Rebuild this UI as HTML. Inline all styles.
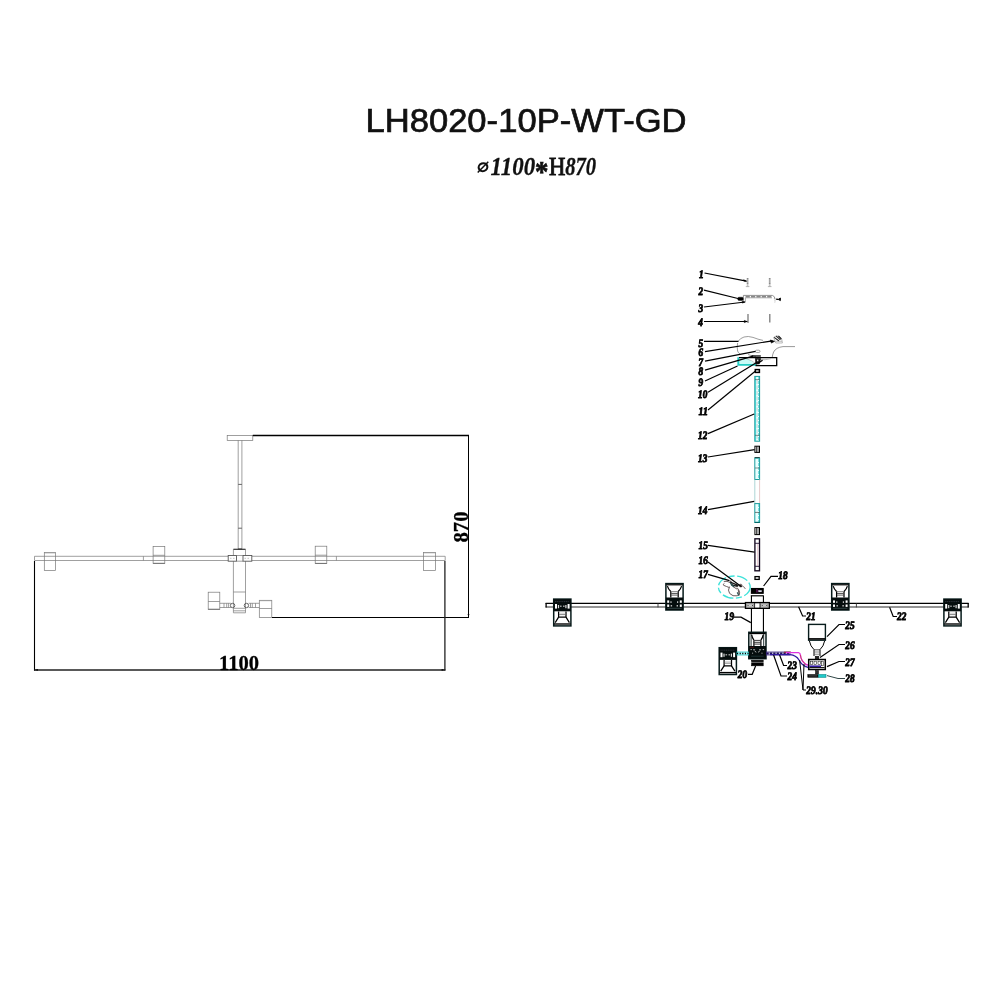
<!DOCTYPE html>
<html><head><meta charset="utf-8"><title>LH8020-10P-WT-GD</title>
<style>
html,body{margin:0;padding:0;background:#fff;}
body{width:1000px;height:1000px;overflow:hidden;position:relative;font-family:"Liberation Sans",sans-serif;}
svg{position:absolute;left:0;top:0;filter:blur(0.3px);}
.t{font-family:"Liberation Sans",sans-serif;font-size:33.6px;fill:#111;stroke:#111;stroke-width:0.7px;}
.s{font-family:"Liberation Serif",serif;font-style:italic;font-weight:bold;font-size:24.6px;fill:#111;stroke:#111;stroke-width:0.3px;}
.d{font-family:"Liberation Serif",serif;font-weight:bold;font-size:22px;fill:#000;stroke:#000;stroke-width:0.3px;}
.n{font-family:"Liberation Serif",serif;font-weight:bold;font-style:italic;font-size:11.4px;fill:#000;stroke:#000;stroke-width:0.8px;stroke-linejoin:round;}
</style></head><body>
<svg width="1000" height="1000" viewBox="0 0 1000 1000">
<rect width="1000" height="1000" fill="#fff"/>
<text id="title" class="t" x="365.4" y="132.2" textLength="321.2" lengthAdjust="spacingAndGlyphs">LH8020-10P-WT-GD</text>
<g id="sub">
<ellipse cx="483" cy="167.2" rx="4.4" ry="3.9" fill="none" stroke="#111" stroke-width="2.1" transform="rotate(-20 483 167.2)"/>
<line x1="477.7" y1="172.5" x2="488.3" y2="161.8" stroke="#111" stroke-width="1.5"/>
<text class="s" x="490.6" y="175.2" textLength="44.5" lengthAdjust="spacingAndGlyphs">1100</text>
<text class="s" x="535" y="181.2" textLength="13.4" lengthAdjust="spacingAndGlyphs" style="font-style:normal;font-size:29px;stroke-width:0.7px">*</text>
<text class="s" x="549" y="175.2" textLength="16.4" lengthAdjust="spacingAndGlyphs" style="font-style:normal;font-weight:normal;stroke:#111;stroke-width:0.9px">H</text>
<text class="s" x="565.2" y="175.2" textLength="31" lengthAdjust="spacingAndGlyphs">870</text>
</g>
<g id="left">
<rect x="227.2" y="435.4" width="25.6" height="5.0" stroke="#777" stroke-width="0.7" fill="none" />
<line x1="238.2" y1="440.4" x2="238.2" y2="549.3" stroke="#777" stroke-width="0.7" />
<line x1="241.9" y1="440.4" x2="241.9" y2="549.3" stroke="#777" stroke-width="0.7" />
<line x1="238.2" y1="484.4" x2="241.9" y2="484.4" stroke="#555" stroke-width="0.9" />
<line x1="238.2" y1="528.2" x2="241.9" y2="528.2" stroke="#555" stroke-width="0.9" />
<line x1="34.5" y1="556.3" x2="228.2" y2="556.3" stroke="#777" stroke-width="0.7" />
<line x1="34.5" y1="560.5" x2="228.2" y2="560.5" stroke="#777" stroke-width="0.7" />
<line x1="251.8" y1="556.3" x2="445.2" y2="556.3" stroke="#777" stroke-width="0.7" />
<line x1="251.8" y1="560.5" x2="445.2" y2="560.5" stroke="#777" stroke-width="0.7" />
<line x1="34.5" y1="556.3" x2="34.5" y2="560.5" stroke="#777" stroke-width="0.7" />
<line x1="445.2" y1="556.3" x2="445.2" y2="560.5" stroke="#777" stroke-width="0.7" />
<line x1="143.4" y1="556.3" x2="143.4" y2="560.5" stroke="#777" stroke-width="0.7" />
<line x1="336.4" y1="556.3" x2="336.4" y2="560.5" stroke="#777" stroke-width="0.7" />
<rect x="44.3" y="552.5" width="11.2" height="17.9" stroke="#777" stroke-width="0.7" fill="none" />
<line x1="44.3" y1="552.9" x2="55.5" y2="552.9" stroke="#999" stroke-width="0.8" />
<rect x="153.1" y="546.4" width="11.7" height="17.1" stroke="#777" stroke-width="0.7" fill="none" />
<line x1="153.1" y1="555.3" x2="164.8" y2="555.3" stroke="#777" stroke-width="0.7" />
<line x1="153.1" y1="563.3" x2="164.8" y2="563.3" stroke="#666" stroke-width="0.8" />
<rect x="315.2" y="546.2" width="11.6" height="17.4" stroke="#777" stroke-width="0.7" fill="none" />
<line x1="315.2" y1="555.2" x2="326.8" y2="555.2" stroke="#777" stroke-width="0.7" />
<line x1="315.2" y1="563.4" x2="326.8" y2="563.4" stroke="#666" stroke-width="0.8" />
<rect x="423.4" y="552.4" width="12.2" height="18.0" stroke="#777" stroke-width="0.7" fill="none" />
<line x1="423.4" y1="552.8" x2="435.6" y2="552.8" stroke="#999" stroke-width="0.8" />
<line x1="233.4" y1="549.3" x2="233.4" y2="612.8" stroke="#777" stroke-width="0.7" />
<line x1="245.5" y1="549.3" x2="245.5" y2="612.8" stroke="#777" stroke-width="0.7" />
<line x1="233.4" y1="549.3" x2="245.5" y2="549.3" stroke="#333" stroke-width="1.2" />
<line x1="238.2" y1="549.0" x2="241.9" y2="549.0" stroke="#333" stroke-width="1.0" />
<rect x="228.2" y="555.5" width="8.3" height="5.7" stroke="#555" stroke-width="0.9" fill="#fff" />
<rect x="243.0" y="555.5" width="8.8" height="5.7" stroke="#555" stroke-width="0.9" fill="#fff" />
<line x1="236.5" y1="555.5" x2="243.0" y2="555.5" stroke="#777" stroke-width="0.7" />
<line x1="236.5" y1="561.2" x2="243.0" y2="561.2" stroke="#777" stroke-width="0.7" />
<line x1="230" y1="558.3" x2="235" y2="558.3" stroke="#999" stroke-width="0.6" stroke-dasharray="1.5 1.5"/>
<line x1="244.5" y1="558.3" x2="250.3" y2="558.3" stroke="#999" stroke-width="0.6" stroke-dasharray="1.5 1.5"/>
<line x1="233.4" y1="592.0" x2="245.5" y2="592.0" stroke="#777" stroke-width="0.7" />
<line x1="233.4" y1="608.3" x2="245.5" y2="608.3" stroke="#777" stroke-width="0.7" />
<line x1="233.4" y1="610.8" x2="245.5" y2="610.8" stroke="#777" stroke-width="0.7" />
<line x1="233.4" y1="612.8" x2="245.5" y2="612.8" stroke="#777" stroke-width="0.7" />
<rect x="208.2" y="592.2" width="11.6" height="17.3" stroke="#777" stroke-width="0.7" fill="none" />
<line x1="208.2" y1="601.5" x2="219.8" y2="601.5" stroke="#777" stroke-width="0.7" />
<line x1="208.2" y1="609.2" x2="219.8" y2="609.2" stroke="#666" stroke-width="0.8" />
<line x1="219.8" y1="603.3" x2="231" y2="603.3" stroke="#777" stroke-width="0.7" />
<line x1="219.8" y1="607.5" x2="231" y2="607.5" stroke="#777" stroke-width="0.7" />
<line x1="224" y1="603.3" x2="224" y2="607.5" stroke="#777" stroke-width="0.7" />
<line x1="226.7" y1="603.3" x2="226.7" y2="607.5" stroke="#777" stroke-width="0.7" />
<line x1="228.6" y1="603.3" x2="228.6" y2="607.5" stroke="#777" stroke-width="0.7" />
<circle cx="232.6" cy="605.5" r="2.2" stroke="#555" stroke-width="0.9" fill="none"/>
<circle cx="246.4" cy="605.5" r="2.2" stroke="#555" stroke-width="0.9" fill="none"/>
<line x1="248.6" y1="603.3" x2="259.3" y2="603.3" stroke="#777" stroke-width="0.7" />
<line x1="248.6" y1="607.5" x2="259.3" y2="607.5" stroke="#777" stroke-width="0.7" />
<line x1="250.5" y1="603.3" x2="250.5" y2="607.5" stroke="#777" stroke-width="0.7" />
<line x1="252.3" y1="603.3" x2="252.3" y2="607.5" stroke="#777" stroke-width="0.7" />
<line x1="255.5" y1="603.3" x2="255.5" y2="607.5" stroke="#777" stroke-width="0.7" />
<rect x="259.3" y="600.3" width="12.5" height="17.2" stroke="#777" stroke-width="0.7" fill="none" />
<line x1="259.3" y1="608.5" x2="271.8" y2="608.5" stroke="#777" stroke-width="0.7" />
<line x1="259.3" y1="600.7" x2="271.8" y2="600.7" stroke="#999" stroke-width="0.8" />
<line x1="252.8" y1="435.4" x2="469" y2="435.4" stroke="#000" stroke-width="1.5" />
<line x1="272" y1="617.5" x2="469" y2="617.5" stroke="#000" stroke-width="1.1" />
<line x1="468.5" y1="435.4" x2="468.5" y2="618" stroke="#000" stroke-width="1.05" />
<line x1="34.5" y1="561" x2="34.5" y2="670.8" stroke="#000" stroke-width="1.1" />
<line x1="444.9" y1="561" x2="444.9" y2="670.6" stroke="#222" stroke-width="1.3" />
<line x1="34.5" y1="669.9" x2="445.4" y2="669.9" stroke="#222" stroke-width="1.45" />
<path d="M34.5 669.9 l3.4 -0.9 v1.8 z M445 669.9 l-3.4 -0.9 v1.8 z M468.5 617.4 l-0.9 -3.4 h1.8 z" fill="#000"/>
<text id="d1100" class="d" x="219" y="670" textLength="40" lengthAdjust="spacingAndGlyphs">1100</text>
<text id="d870" class="d" transform="translate(468,542.5) rotate(-90)" textLength="31" lengthAdjust="spacingAndGlyphs">870</text>
</g>
<defs>
<g id="lampD"><!-- downward lamp, origin top-left, 18.6 x 28.2 -->
<rect x="0.7" y="0.7" width="17.2" height="26.8" fill="#fff" stroke="#061a1a" stroke-width="1.5"/>
<rect x="0.7" y="0.7" width="17.2" height="12.2" fill="#050d0d"/>
<rect x="2.0" y="5.6" width="2.0" height="4.6" fill="#fff"/>
<rect x="14.6" y="5.6" width="2.0" height="4.6" fill="#fff"/>
<rect x="4.9" y="6.6" width="1.2" height="3.2" fill="#ddd"/>
<rect x="12.3" y="6.6" width="1.2" height="3.2" fill="#ddd"/>
<rect x="7" y="7.2" width="1.6" height="1.2" fill="#bbb"/>
<rect x="10" y="7.2" width="1.6" height="1.2" fill="#bbb"/>
<line x1="2" y1="3.2" x2="16.5" y2="3.2" stroke="#556" stroke-width="0.5" stroke-dasharray="1.2 0.6"/>
<path d="M5.6 13 V18.8 H13 V13" fill="none" stroke="#000" stroke-width="1.25"/>
<line x1="6" y1="16.2" x2="12.6" y2="16.2" stroke="#666" stroke-width="0.8"/>
<line x1="6" y1="14.8" x2="12.6" y2="14.8" stroke="#999" stroke-width="0.5"/>
<path d="M5.6 18.8 L2.2 24.2 M13 18.8 L16.4 24.2" fill="none" stroke="#000" stroke-width="1.25"/>
<line x1="1" y1="25.6" x2="17.6" y2="25.6" stroke="#000" stroke-width="1.4"/>
</g>
<g id="lampU"><!-- upward lamp, origin top-left, 18.6 x 27.8 -->
<rect x="0.7" y="0.7" width="17.2" height="26.4" fill="#fff" stroke="#061a1a" stroke-width="1.5"/>
<rect x="0.7" y="14.6" width="17.2" height="12.5" fill="#050d0d"/>
<rect x="2.0" y="17.5" width="2.0" height="2.4" fill="#fff"/>
<rect x="14.6" y="17.5" width="2.0" height="2.4" fill="#fff"/>
<rect x="2.0" y="21.6" width="2.0" height="2.4" fill="#fff"/>
<rect x="14.6" y="21.6" width="2.0" height="2.4" fill="#fff"/>
<rect x="5.2" y="18.4" width="1.2" height="1.6" fill="#ccc"/>
<rect x="11.8" y="18.4" width="1.2" height="1.6" fill="#ccc"/>
<rect x="5.5" y="22.2" width="1.4" height="1.4" fill="#ccc"/>
<rect x="11.4" y="22.2" width="1.4" height="1.4" fill="#ccc"/>
<line x1="2" y1="25.4" x2="16.5" y2="25.4" stroke="#5a7a7a" stroke-width="0.5"/>
<line x1="1" y1="1.9" x2="17.6" y2="1.9" stroke="#000" stroke-width="1.2"/>
<path d="M2.2 3.2 C3 6 4.2 7.2 5.6 8.6 M16.4 3.2 C15.6 6 14.4 7.2 13 8.6" fill="none" stroke="#000" stroke-width="1.25"/>
<path d="M5.6 8.6 V14.6 M13 8.6 V14.6" fill="none" stroke="#000" stroke-width="1.25"/>
<line x1="6" y1="8.8" x2="12.6" y2="8.8" stroke="#444" stroke-width="0.7"/>
<line x1="6" y1="10.6" x2="12.6" y2="10.6" stroke="#333" stroke-width="0.8"/>
<line x1="6" y1="12.2" x2="12.6" y2="12.2" stroke="#333" stroke-width="0.8"/>
</g>
<g id="lampH"><!-- hub lamp -->
<rect x="0.7" y="0.7" width="17.2" height="26.4" fill="#fff" stroke="#061a1a" stroke-width="1.5"/>
<rect x="0.7" y="14.4" width="17.2" height="12.7" fill="#050d0d"/>
<path d="M3 2 V14.4 M15.6 2 V14.4" fill="none" stroke="#0a1c1c" stroke-width="0.9"/>
<line x1="1" y1="1.9" x2="17.6" y2="1.9" stroke="#000" stroke-width="1.3"/>
<path d="M3.6 3.2 C4 6 4.8 7.2 5.8 8.6 M15 3.2 C14.6 6 13.8 7.2 12.8 8.6" fill="none" stroke="#000" stroke-width="1.2"/>
<path d="M5.8 8.6 V14.6 M12.8 8.6 V14.6" fill="none" stroke="#000" stroke-width="1.2"/>
<line x1="6" y1="8.8" x2="12.6" y2="8.8" stroke="#222" stroke-width="0.9"/>
<line x1="6" y1="10.7" x2="12.6" y2="10.7" stroke="#222" stroke-width="0.9"/>
<line x1="6" y1="12.5" x2="12.6" y2="12.5" stroke="#222" stroke-width="0.9"/>
<path d="M2.4 18 h1.4 M5 18.2 h2 M11 18.2 h2 M14.6 18 h1.4 M6.6 19.6 l1.6 1 M11.6 19.6 l-1.6 1 M4 21.6 h1 M13.4 21.6 h1" stroke="#ddd" stroke-width="0.8" fill="none"/>
<line x1="3" y1="24.6" x2="15.6" y2="24.6" stroke="#2a4a4a" stroke-width="0.6"/>
<line x1="2" y1="15.8" x2="6" y2="15.8" stroke="#8a1a1a" stroke-width="0.5"/>
</g>
</defs>
<g id="right">
<line x1="545.6" y1="603.4" x2="745" y2="603.4" stroke="#000" stroke-width="1.15" />
<line x1="545.6" y1="607.0" x2="745" y2="607.0" stroke="#707070" stroke-width="1.3" />
<line x1="769.8" y1="603.4" x2="968.6" y2="603.4" stroke="#000" stroke-width="1.15" />
<line x1="769.8" y1="607.0" x2="968.6" y2="607.0" stroke="#707070" stroke-width="1.3" />
<line x1="546.1" y1="602.9" x2="546.1" y2="607.6" stroke="#000" stroke-width="1.3" />
<line x1="968.2" y1="602.9" x2="968.2" y2="607.6" stroke="#000" stroke-width="1.3" />
<line x1="658" y1="603.4" x2="658" y2="607.4" stroke="#333" stroke-width="0.9" />
<line x1="856.4" y1="603.4" x2="856.4" y2="607.4" stroke="#333" stroke-width="0.9" />
<use href="#lampD" x="553" y="598.4"/>
<use href="#lampU" x="665.2" y="582.9"/>
<use href="#lampU" x="831" y="582.9"/>
<use href="#lampD" x="943.2" y="598.4"/>
<line x1="751.45" y1="595.7" x2="751.45" y2="632" stroke="#000" stroke-width="1.15" />
<line x1="763.45" y1="595.7" x2="763.45" y2="632" stroke="#000" stroke-width="1.15" />
<line x1="750.8" y1="595.8" x2="763.7" y2="595.8" stroke="#000" stroke-width="1.2" />
<rect x="745.5" y="602.6" width="23.8" height="5.7" stroke="#000" stroke-width="1.4" fill="#fff" />
<rect x="746.8" y="603.9" width="7.2" height="3.2" stroke="#555" stroke-width="0.5" fill="#ccc" />
<line x1="747.6" y1="605.5" x2="753.2" y2="605.5" stroke="#222" stroke-width="0.9" stroke-dasharray="0.9 3.6"/>
<rect x="760.8" y="603.9" width="7.2" height="3.2" stroke="#555" stroke-width="0.5" fill="#ccc" />
<line x1="761.8" y1="605.5" x2="767.6" y2="605.5" stroke="#222" stroke-width="0.9" stroke-dasharray="0.9 3.6"/>
<line x1="754.6" y1="602.3" x2="754.6" y2="608.5" stroke="#000" stroke-width="0.8" />
<line x1="760.0" y1="602.3" x2="760.0" y2="608.5" stroke="#000" stroke-width="0.8" />
<rect x="751.4" y="588.5" width="11.8" height="4.8" stroke="#000" stroke-width="1.1" fill="#000" />
<rect x="756.2" y="589.4" width="1.6" height="3.0" stroke="#50104a" stroke-width="0.3" fill="#50104a" />
<rect x="758.6" y="590.4" width="3.0" height="1.5" stroke="#ccd" stroke-width="0.3" fill="#eef" />
<rect x="755.0" y="576.6" width="4.2" height="2.8" stroke="#000" stroke-width="1.3" fill="#fff" />
<use href="#lampH" x="748.1" y="631.6"/>
<rect x="751.6" y="660.2" width="11.6" height="5.6" stroke="#000" stroke-width="0.6" fill="#000" />
<line x1="751" y1="662.3" x2="764" y2="662.3" stroke="#fff" stroke-width="0.5" />
<use href="#lampD" x="718.5" y="647.0"/>
<rect x="737" y="652.0" width="11.5" height="3.0" stroke="#1fc8c8" stroke-width="0.8" fill="#bff" />
<line x1="737" y1="653.5" x2="748.5" y2="653.5" stroke="#000" stroke-width="1.6" stroke-dasharray="1.2 1.4"/>
<rect x="766.5" y="652.0" width="23.5" height="3.0" stroke="#3a2a80" stroke-width="0.8" fill="#ccd" />
<line x1="766.5" y1="653.5" x2="790" y2="653.5" stroke="#201060" stroke-width="1.8" stroke-dasharray="2.2 1.2"/>
<line x1="784" y1="652.2" x2="791" y2="652.2" stroke="#a02020" stroke-width="1.0" />
<path d="M786 652.6 H798.5 Q800.2 652.8 800.4 655 Q801 661 806 664.5 Q810 666.2 816 666.2" stroke="#e030e0" stroke-width="1.4" fill="none" />
<path d="M770 654.6 H790 Q796 655 799 660 Q802 666 808 667.4 H821" stroke="#3018a0" stroke-width="1.3" fill="none" />
<path d="M800.4 655 Q801 661 806 664.5" stroke="#c04040" stroke-width="0.7" fill="none" />
<line x1="747.6" y1="278" x2="747.6" y2="286.3" stroke="#8a8a8a" stroke-width="1.7" stroke-dasharray="1.2 0.4"/>
<line x1="745.8000000000001" y1="286.6" x2="749.4" y2="286.6" stroke="#999" stroke-width="0.7" />
<line x1="769.7" y1="278" x2="769.7" y2="286.3" stroke="#8a8a8a" stroke-width="1.7" stroke-dasharray="1.2 0.4"/>
<line x1="767.9000000000001" y1="286.6" x2="771.5" y2="286.6" stroke="#999" stroke-width="0.7" />
<path d="M743.4 302.4 V295.4 H772.4 Q774.8 296 775.2 299.4" stroke="#7a7a7a" stroke-width="0.8" fill="none" />
<path d="M745.4 302.4 V297.8 H772" stroke="#8a8a8a" stroke-width="0.7" fill="none" />
<line x1="745.6" y1="296.6" x2="772.4" y2="296.6" stroke="#888" stroke-width="1.7" stroke-dasharray="4.2 1.2"/>
<path d="M774.2 298 Q775.4 300.6 774.8 302.6" stroke="#999" stroke-width="0.8" fill="none" stroke-dasharray="1 0.7"/>
<rect x="737.8" y="297.2" width="5.4" height="3.2" stroke="#000" stroke-width="0.4" fill="#000" rx="1.2"/>
<path d="M776.2 299.2 h2.4 l1.8 -1.2 v2.6 l-1.8 -1 z" stroke="#000" stroke-width="0.9" fill="#000" />
<line x1="748" y1="314" x2="748" y2="323" stroke="#7a7a7a" stroke-width="1.3" />
<line x1="769.8" y1="314" x2="769.8" y2="322.5" stroke="#7a7a7a" stroke-width="1.3" />
<path d="M738 341.5 Q740 338.2 744 337 Q748 335.8 753 337.4 Q758 339.4 763 340.4 M737.6 343 Q736.8 347 737.6 351 Q738.2 353 740 354 M748 354.5 Q752 356 756 356.5" stroke="#8c8c8c" stroke-width="0.85" fill="none" />
<path d="M773.6 337.4 l2.8 -1.6 l3 0.8 l2.4 3 l0.6 3.4 h-6.6 z" stroke="#999" stroke-width="0.7" fill="#fff" />
<path d="M774.2 337.4 l4.8 3.6 M776.2 336.2 l4.2 3.6 M778.4 336 l3 3" stroke="#222" stroke-width="1.1" fill="none" />
<path d="M775.4 341.4 h6.6" stroke="#aaa" stroke-width="0.7" fill="none" />
<path d="M770.2 340.0 l4.4 1.3 l-3.2 1.8 z" stroke="#000" stroke-width="0.6" fill="#000" />
<rect x="755.4" y="350.2" width="4.6" height="2.3" stroke="#888" stroke-width="0.8" fill="#fff" rx="1.1"/>
<path d="M795 346.6 H783 Q776 347.4 773.6 352 Q772.4 355 772.2 357.6" stroke="#8c8c8c" stroke-width="0.9" fill="none" />
<line x1="751.6" y1="356.0" x2="760.8" y2="356.0" stroke="#000" stroke-width="1.3" />
<rect x="737.9" y="357.7" width="38.8" height="7.9" stroke="none" stroke-width="0" fill="#fff" />
<path d="M738.6 358.4 H748 L756 364.9 H738.6 Z" stroke="none" stroke-width="0" fill="#c8fbf6" />
<path d="M738.3 357.2 V364.9 H756.5" stroke="#22ccc2" stroke-width="1.9" fill="none" />
<path d="M739 357.7 H776.7 V365.6 H755.5" stroke="#000" stroke-width="1.3" fill="none" />
<path d="M746 358.6 Q752 360 757 364.6" stroke="#9aa" stroke-width="0.6" fill="none" />
<path d="M759 359.2 Q765 360.6 771 358.6" stroke="#aaa" stroke-width="0.8" fill="none" />
<path d="M755.4 358.2 l5.2 0.2 l-1.2 5.4 l-3.6 0.4 z" stroke="#000" stroke-width="0.6" fill="#1a1a1a" />
<path d="M757.6 363.4 l5.0 -3.2" stroke="#000" stroke-width="1.3" fill="none" />
<rect x="757.0" y="359.6" width="1.4" height="1.6" stroke="#fff" stroke-width="0" fill="#ddd" />
<rect x="755.3" y="369.6" width="4.1" height="2.8" stroke="#000" stroke-width="1.5" fill="#fff" />
<rect x="754.8" y="376.4" width="4.8" height="64.8" stroke="#1a9c9c" stroke-width="1.0" fill="#eaffff" />
<line x1="755.6" y1="377" x2="755.6" y2="441" stroke="#1fc8c8" stroke-width="0.8" />
<line x1="758.6" y1="377" x2="758.6" y2="441" stroke="#1fc8c8" stroke-width="0.6" stroke-dasharray="3 1"/>
<line x1="757.1" y1="380" x2="757.1" y2="440" stroke="#aaa" stroke-width="0.5" stroke-dasharray="4 1.5"/>
<line x1="755" y1="379.6" x2="759.6" y2="379.6" stroke="#444" stroke-width="0.6" />
<line x1="755" y1="435.3" x2="759.6" y2="435.3" stroke="#444" stroke-width="0.6" />
<rect x="754.9" y="446.2" width="4.6" height="6.2" stroke="#000" stroke-width="1.0" fill="#fff" />
<line x1="756.5" y1="446.2" x2="756.5" y2="452.4" stroke="#000" stroke-width="0.7" />
<line x1="758.0" y1="446.2" x2="758.0" y2="452.4" stroke="#000" stroke-width="0.7" />
<line x1="754.6" y1="457.7" x2="759.8" y2="457.7" stroke="#000" stroke-width="1.1" />
<rect x="754.8" y="458.2" width="4.8" height="21.3" stroke="#1a9c9c" stroke-width="1.0" fill="#eaffff" />
<line x1="758.6" y1="459" x2="758.6" y2="479" stroke="#1fc8c8" stroke-width="0.6" stroke-dasharray="3 1"/>
<line x1="755" y1="468.0" x2="759.6" y2="468.0" stroke="#444" stroke-width="0.6" />
<line x1="754.8" y1="479.5" x2="754.8" y2="503.6" stroke="#9cc" stroke-width="0.8" />
<line x1="759.6" y1="479.5" x2="759.6" y2="503.6" stroke="#dbb" stroke-width="0.8" />
<rect x="754.8" y="503.6" width="4.8" height="18.8" stroke="#1a9c9c" stroke-width="1.0" fill="#eaffff" />
<line x1="758.6" y1="504" x2="758.6" y2="522" stroke="#1fc8c8" stroke-width="0.6" stroke-dasharray="3 1"/>
<line x1="755" y1="512.4" x2="759.6" y2="512.4" stroke="#444" stroke-width="0.7" />
<line x1="754.6" y1="522.4" x2="759.8" y2="522.4" stroke="#066" stroke-width="1.1" />
<rect x="754.9" y="527.6" width="4.6" height="7.0" stroke="#000" stroke-width="1.0" fill="#fff" />
<line x1="756.5" y1="527.6" x2="756.5" y2="534.6" stroke="#000" stroke-width="0.7" />
<line x1="758.0" y1="527.6" x2="758.0" y2="534.6" stroke="#000" stroke-width="0.7" />
<rect x="754.9" y="538.8" width="4.6" height="32.0" stroke="#14081e" stroke-width="1.35" fill="#fff" />
<line x1="755" y1="543.3" x2="759.5" y2="543.3" stroke="#1a0a2a" stroke-width="0.9" />
<line x1="755" y1="566.3" x2="759.5" y2="566.3" stroke="#1a0a2a" stroke-width="0.9" />
<line x1="757.6" y1="544" x2="757.6" y2="566" stroke="#d9a" stroke-width="0.5" />
<ellipse cx="734.3" cy="587.1" rx="15.9" ry="11.1" fill="none" stroke="#3fe2da" stroke-width="1.35" stroke-dasharray="11 2.6 6 2.6"/>
<path d="M724.4 583.4 q-1.8 0.8 -0.8 1.9 q2.8 1.2 5.6 2.2 M723.8 581.4 q3.2 -0.5 6.2 1.0 M729.6 586.6 q-2.2 3.6 0 6.8 q3 3.4 7.6 2.4 q3 -1 2.4 -3.6 q-0.6 -2.6 -2.6 -4.6 M730.6 580.6 l2.6 6.2 l4 2.4 M738.2 589.6 l1 5.6" stroke="#5a4c4c" stroke-width="0.9" fill="none" />
<path d="M729.8 581.8 l8.8 3.8 M731.4 585 l6.4 1.4" stroke="#1a1a1a" stroke-width="1.3" fill="none" />
<path d="M730.4 583.2 q1.6 2.4 3.6 3.4" stroke="#245050" stroke-width="1.4" fill="none" />
<circle cx="740.6" cy="585.6" r="1.5" fill="#7a6a6a" stroke="#544" stroke-width="0.5"/>
<path d="M742.2 586.0 q2.2 0.6 3.2 3.0" stroke="#8a7a7a" stroke-width="1.0" fill="none" />
<path d="M737.2 592.4 l1.8 3.2" stroke="#355" stroke-width="1.2" fill="none" />
<rect x="808.6" y="624.4" width="16.8" height="15.8" stroke="#071c1c" stroke-width="1.4" fill="#fff" />
<line x1="808.6" y1="638.9" x2="825.4" y2="638.9" stroke="#000" stroke-width="1.6" />
<path d="M809.4 641 Q810.4 646.4 814 649.6 M824.6 641 Q823.6 646.4 820 649.6" stroke="#000" stroke-width="1.0" fill="none" />
<path d="M814 649.6 V656 M820 649.6 V656" stroke="#000" stroke-width="1.0" fill="none" />
<line x1="814" y1="649.8" x2="820" y2="649.8" stroke="#222" stroke-width="0.8" />
<line x1="814" y1="652.0" x2="820" y2="652.0" stroke="#555" stroke-width="0.7" />
<line x1="814" y1="654.2" x2="820" y2="654.2" stroke="#555" stroke-width="0.7" />
<rect x="815.2" y="656.2" width="3.6" height="2.6" stroke="#000" stroke-width="0.5" fill="#222" />
<rect x="808.7" y="659.5" width="16.6" height="10.0" stroke="#000" stroke-width="1.5" fill="#fff" />
<rect x="810.6" y="661.2" width="2.2" height="3.2" stroke="#000" stroke-width="0.5" fill="#fff" />
<rect x="814.0" y="661.2" width="2.6" height="3.2" stroke="#000" stroke-width="0.5" fill="#fff" />
<rect x="818.0" y="661.2" width="2.6" height="3.2" stroke="#000" stroke-width="0.5" fill="#fff" />
<rect x="821.6" y="661.2" width="1.6" height="4.6" stroke="#000" stroke-width="0.5" fill="#fff" />
<line x1="809.4" y1="667.6" x2="824.6" y2="667.6" stroke="#000" stroke-width="1.0" />
<line x1="809.4" y1="666.2" x2="821" y2="666.2" stroke="#3018a0" stroke-width="1.6" />
<rect x="815.4" y="670.4" width="3.2" height="3.6" stroke="#000" stroke-width="0.4" fill="#333" />
<rect x="807.8" y="674.5" width="10.6" height="2.8" stroke="#000" stroke-width="0.5" fill="#111" />
<rect x="818.4" y="674.5" width="7.6" height="2.8" stroke="#0a8a8a" stroke-width="0.6" fill="#1fc8c8" />
<line x1="809" y1="675.9" x2="817" y2="675.9" stroke="#999" stroke-width="0.4" />
<line x1="704.5" y1="273" x2="746.4" y2="281.2" stroke="#000" stroke-width="1.2" />
<line x1="704" y1="290.2" x2="740" y2="299" stroke="#000" stroke-width="1.2" />
<line x1="704" y1="307" x2="745" y2="302" stroke="#000" stroke-width="1.2" />
<line x1="704" y1="321.5" x2="747.2" y2="321.5" stroke="#000" stroke-width="1.2" />
<line x1="704" y1="341.3" x2="738.5" y2="341.3" stroke="#000" stroke-width="1.2" />
<line x1="705" y1="351.6" x2="772.5" y2="340.8" stroke="#000" stroke-width="1.2" />
<line x1="705" y1="361.2" x2="755.5" y2="351.4" stroke="#000" stroke-width="1.2" />
<line x1="705" y1="370.2" x2="753" y2="356.2" stroke="#000" stroke-width="1.2" />
<line x1="705" y1="381" x2="737.5" y2="366" stroke="#000" stroke-width="1.2" />
<line x1="708" y1="392.2" x2="757" y2="362.2" stroke="#000" stroke-width="1.2" />
<line x1="708" y1="410" x2="755.2" y2="371.2" stroke="#000" stroke-width="1.2" />
<line x1="708" y1="433.6" x2="754.2" y2="414" stroke="#000" stroke-width="1.2" />
<line x1="708" y1="457" x2="754.6" y2="449.6" stroke="#000" stroke-width="1.2" />
<line x1="708" y1="509.6" x2="754.2" y2="501.4" stroke="#000" stroke-width="1.2" />
<line x1="708" y1="545.4" x2="754.6" y2="552.2" stroke="#000" stroke-width="1.2" />
<line x1="708" y1="562" x2="741.5" y2="586.8" stroke="#000" stroke-width="1.2" />
<line x1="708" y1="574.3" x2="729.5" y2="580.6" stroke="#000" stroke-width="1.2" />
<path d="M778 576.3 H771 L763.6 586" stroke="#000" stroke-width="1.2" fill="none" />
<path d="M734 617.2 H741 L750.8 622.6" stroke="#000" stroke-width="1.2" fill="none" />
<path d="M748 674.3 H752.2 L755.6 666" stroke="#000" stroke-width="1.2" fill="none" />
<path d="M806 616 H802.6 L798.6 606.8" stroke="#000" stroke-width="1.2" fill="none" />
<path d="M897 616.5 H893.2 L889.6 607.2" stroke="#000" stroke-width="1.2" fill="none" />
<path d="M787 665.5 H783.6 L779.6 655" stroke="#000" stroke-width="1.2" fill="none" />
<path d="M787 676 H781 L773.6 655" stroke="#000" stroke-width="1.2" fill="none" />
<path d="M845 624.5 H839 L827 636.6" stroke="#000" stroke-width="1.2" fill="none" />
<path d="M845 644.5 H839 L820 657.6" stroke="#000" stroke-width="1.2" fill="none" />
<path d="M845 661.5 H839 L827 666.6" stroke="#000" stroke-width="1.2" fill="none" />
<path d="M845 678.5 H838 L827 675.6" stroke="#0c2626" stroke-width="0.85" fill="none" />
<path d="M806 690 H803 L799.6 660 M803 690 L804 664" stroke="#000" stroke-width="1.0" fill="none" />
<path d="M746.8 281.3 l-3.2 -1.8 l0.4 1.8 z" stroke="#000" stroke-width="0.3" fill="#000" />
<path d="M747.4 321.5 l-3.2 -1.2 v2.4 z" stroke="#000" stroke-width="0.3" fill="#000" />
<path d="M745.2 302 l-3.2 -0.8 l0.4 2 z" stroke="#000" stroke-width="0.3" fill="#000" />
<text class="n" transform="translate(699,278) skewX(2)" textLength="4.8" lengthAdjust="spacingAndGlyphs">1</text>
<text class="n" transform="translate(698.4,295.2) skewX(2)" textLength="4.8" lengthAdjust="spacingAndGlyphs">2</text>
<text class="n" transform="translate(698.4,312.2) skewX(2)" textLength="4.8" lengthAdjust="spacingAndGlyphs">3</text>
<text class="n" transform="translate(698.2,326.2) skewX(2)" textLength="4.8" lengthAdjust="spacingAndGlyphs">4</text>
<text class="n" transform="translate(698.4,346.6) skewX(2)" textLength="4.8" lengthAdjust="spacingAndGlyphs">5</text>
<text class="n" transform="translate(698.6,356.2) skewX(2)" textLength="4.8" lengthAdjust="spacingAndGlyphs">6</text>
<text class="n" transform="translate(698.6,366.4) skewX(2)" textLength="4.8" lengthAdjust="spacingAndGlyphs">7</text>
<text class="n" transform="translate(698.6,375.2) skewX(2)" textLength="4.8" lengthAdjust="spacingAndGlyphs">8</text>
<text class="n" transform="translate(698.6,386.2) skewX(2)" textLength="4.8" lengthAdjust="spacingAndGlyphs">9</text>
<text class="n" transform="translate(698,398) skewX(2)" textLength="9.6" lengthAdjust="spacingAndGlyphs">10</text>
<text class="n" transform="translate(698.4,415.4) skewX(2)" textLength="9.6" lengthAdjust="spacingAndGlyphs">11</text>
<text class="n" transform="translate(698,439) skewX(2)" textLength="9.6" lengthAdjust="spacingAndGlyphs">12</text>
<text class="n" transform="translate(698,461.6) skewX(2)" textLength="9.6" lengthAdjust="spacingAndGlyphs">13</text>
<text class="n" transform="translate(698,513.7) skewX(2)" textLength="9.6" lengthAdjust="spacingAndGlyphs">14</text>
<text class="n" transform="translate(698.4,549.3) skewX(2)" textLength="9.6" lengthAdjust="spacingAndGlyphs">15</text>
<text class="n" transform="translate(698.4,563.6) skewX(2)" textLength="9.6" lengthAdjust="spacingAndGlyphs">16</text>
<text class="n" transform="translate(698.4,577.9) skewX(2)" textLength="9.6" lengthAdjust="spacingAndGlyphs">17</text>
<text class="n" transform="translate(778.2,579) skewX(2)" textLength="9.6" lengthAdjust="spacingAndGlyphs">18</text>
<text class="n" transform="translate(724.6,620.2) skewX(2)" textLength="9.6" lengthAdjust="spacingAndGlyphs">19</text>
<text class="n" transform="translate(737.8,677.8) skewX(2)" textLength="9.6" lengthAdjust="spacingAndGlyphs">20</text>
<text class="n" transform="translate(806.2,619.8) skewX(2)" textLength="9.6" lengthAdjust="spacingAndGlyphs">21</text>
<text class="n" transform="translate(897,620) skewX(2)" textLength="9.6" lengthAdjust="spacingAndGlyphs">22</text>
<text class="n" transform="translate(787.4,668.8) skewX(2)" textLength="9.6" lengthAdjust="spacingAndGlyphs">23</text>
<text class="n" transform="translate(787.4,679.6) skewX(2)" textLength="9.6" lengthAdjust="spacingAndGlyphs">24</text>
<text class="n" transform="translate(845.2,628.8) skewX(2)" textLength="9.6" lengthAdjust="spacingAndGlyphs">25</text>
<text class="n" transform="translate(845.2,648.6) skewX(2)" textLength="9.6" lengthAdjust="spacingAndGlyphs">26</text>
<text class="n" transform="translate(845.2,665.8) skewX(2)" textLength="9.6" lengthAdjust="spacingAndGlyphs">27</text>
<text class="n" transform="translate(845.2,681.6) skewX(2)" textLength="9.6" lengthAdjust="spacingAndGlyphs">28</text>
<text class="n" transform="translate(806.2,693.6) skewX(2)" textLength="21.6" lengthAdjust="spacingAndGlyphs">29.30</text>
</g>
</svg>
</body></html>
